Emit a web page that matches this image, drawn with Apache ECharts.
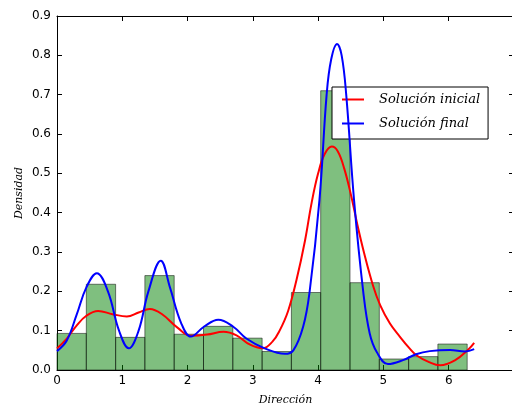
<!DOCTYPE html>
<html>
<head>
<meta charset="utf-8">
<script src="https://cdn.jsdelivr.net/npm/echarts@6/dist/echarts.min.js"></script>
<style>html,body{margin:0;padding:0;background:#fff}#c{width:512px;height:406px}</style>
</head>
<body>
<div id="c"></div>
<script>
// Histogram bin edges and densities
var binEdges = [0, 0.449, 0.898, 1.346, 1.795, 2.244, 2.693, 3.142, 3.590, 4.039, 4.488, 4.937, 5.386, 5.834, 6.283];
var density = [0.093, 0.218, 0.083, 0.240, 0.091, 0.111, 0.081, 0.047, 0.197, 0.710, 0.222, 0.028, 0.034, 0.066];

// Curves: [x, y]
var inicialX = [0, 0.15, 0.3, 0.45, 0.63, 0.85, 1.07, 1.25, 1.42, 1.6, 1.85, 2.05, 2.3, 2.55, 2.75, 2.95, 3.15, 3.3, 3.41, 3.54, 3.67, 3.8, 3.9, 4.0, 4.1, 4.21, 4.3, 4.4, 4.51, 4.6, 4.7, 4.84, 4.95, 5.1, 5.25, 5.4, 5.51, 5.7, 5.87, 6.1, 6.3, 6.39];
var inicialY = [0.055, 0.08, 0.113, 0.138, 0.15, 0.142, 0.136, 0.146, 0.155, 0.143, 0.107, 0.087, 0.09, 0.097, 0.088, 0.065, 0.055, 0.072, 0.1, 0.15, 0.23, 0.33, 0.425, 0.5, 0.549, 0.568, 0.556, 0.512, 0.44, 0.37, 0.3, 0.215, 0.165, 0.118, 0.085, 0.055, 0.037, 0.02, 0.012, 0.025, 0.052, 0.069];
var finalX = [0, 0.15, 0.3, 0.45, 0.61, 0.78, 0.95, 1.1, 1.25, 1.4, 1.59, 1.73, 1.9, 2.05, 2.25, 2.47, 2.7, 2.9, 3.18, 3.49, 3.62, 3.77, 3.87, 4.02, 4.13, 4.2, 4.29, 4.36, 4.43, 4.55, 4.69, 4.79, 4.9, 5.07, 5.3, 5.5, 5.71, 6.02, 6.25, 6.39];
var finalY = [0.048, 0.075, 0.14, 0.21, 0.246, 0.2, 0.1, 0.055, 0.1, 0.2, 0.278, 0.21, 0.12, 0.085, 0.11, 0.128, 0.11, 0.08, 0.055, 0.041, 0.05, 0.11, 0.2, 0.432, 0.7, 0.79, 0.829, 0.8, 0.7, 0.432, 0.2, 0.093, 0.045, 0.015, 0.025, 0.04, 0.048, 0.051, 0.047, 0.053];

var xTicks = [0, 1, 2, 3, 4, 5, 6];
var yTicks = [0.0, 0.1, 0.2, 0.3, 0.4, 0.5, 0.6, 0.7, 0.8, 0.9];

function zip(a, b) { return a.map(function (v, i) { return [v, b[i]]; }); }
var bars = density.map(function (d, i) { return [binEdges[i], binEdges[i + 1], d]; });

var chart = echarts.init(document.getElementById('c'), null, { renderer: 'canvas' });
var axisTxt = { color: '#000', fontFamily: 'DejaVu Sans', fontSize: 12 };
var serifIt = { fontFamily: 'DejaVu Serif', fontStyle: 'italic', color: '#000' };
chart.setOption({
  animation: false,
  backgroundColor: '#fff',
  grid: { left: 57, top: 16, right: -2, bottom: 36, containLabel: false, outerBoundsMode: 'none' },
  legend: {
    data: [{ name: 'Solución inicial', icon: 'rect' }, { name: 'Solución final', icon: 'rect' }],
    orient: 'vertical',
    left: 332, top: 87,
    padding: [6, 8, 9, 10],
    itemGap: 11,
    itemWidth: 22, itemHeight: 2,
    borderColor: '#000', borderWidth: 1, backgroundColor: '#fff',
    textStyle: Object.assign({ fontSize: 13, padding: [0, 0, 0, 10] }, serifIt)
  },
  xAxis: [{
    type: 'value', min: 0, max: 7, interval: 1,
    name: 'Dirección', nameLocation: 'middle', nameGap: 25,
    nameTextStyle: Object.assign({ fontSize: 11 }, serifIt),
    axisLine: { onZero: false, lineStyle: { color: '#000', width: 1 } },
    axisTick: { inside: true, length: 5, lineStyle: { color: '#000' } },
    axisLabel: Object.assign({ margin: 5, formatter: function (v) { return xTicks.indexOf(v) >= 0 ? String(v) : ''; } }, axisTxt),
    splitLine: { show: false }
  }, {
    type: 'value', position: 'top', min: 0, max: 7, interval: 1,
    axisLine: { onZero: false, lineStyle: { color: '#000', width: 1 } },
    axisTick: { inside: true, length: 5, lineStyle: { color: '#000' } },
    axisLabel: { show: false }, splitLine: { show: false }
  }],
  yAxis: [{
    type: 'value', min: 0, max: 0.9, interval: 0.1,
    name: 'Densidad', nameLocation: 'middle', nameGap: 32, nameRotate: 90, nameMoveOverlap: false,
    nameTextStyle: Object.assign({ fontSize: 11 }, serifIt),
    axisLine: { show: true, onZero: false, lineStyle: { color: '#000', width: 1 } },
    axisTick: { show: true, inside: true, length: 5, lineStyle: { color: '#000' } },
    axisLabel: Object.assign({ margin: 6, formatter: function (v) { return v.toFixed(1); } }, axisTxt),
    splitLine: { show: false }
  }, {
    type: 'value', position: 'right', min: 0, max: 0.9, interval: 0.1,
    axisLine: { show: true, onZero: false, lineStyle: { color: '#000', width: 1 } },
    axisTick: { show: true, inside: true, length: 5, lineStyle: { color: '#000' } },
    axisLabel: { show: false }, splitLine: { show: false }
  }],
  series: [{
    type: 'custom',
    name: 'hist',
    data: bars,
    encode: { x: [0, 1], y: 2 },
    renderItem: function (params, api) {
      var p0 = api.coord([api.value(0), api.value(2)]);
      var p1 = api.coord([api.value(1), 0]);
      return {
        type: 'rect',
        shape: { x: p0[0], y: p0[1], width: p1[0] - p0[0], height: p1[1] - p0[1] },
        style: { fill: 'rgba(0,128,0,0.5)', stroke: 'rgba(0,0,0,0.5)', lineWidth: 1 }
      };
    },
    z: 1
  }, {
    type: 'line', name: 'Solución inicial',
    data: zip(inicialX, inicialY), smooth: 0.4, symbol: 'none',
    lineStyle: { color: '#ff0000', width: 2 }, itemStyle: { color: '#ff0000' }, z: 3
  }, {
    type: 'line', name: 'Solución final',
    data: zip(finalX, finalY), smooth: 0.4, symbol: 'none',
    lineStyle: { color: '#0000ff', width: 2 }, itemStyle: { color: '#0000ff' }, z: 4
  }]
});
</script>
</body>
</html>
